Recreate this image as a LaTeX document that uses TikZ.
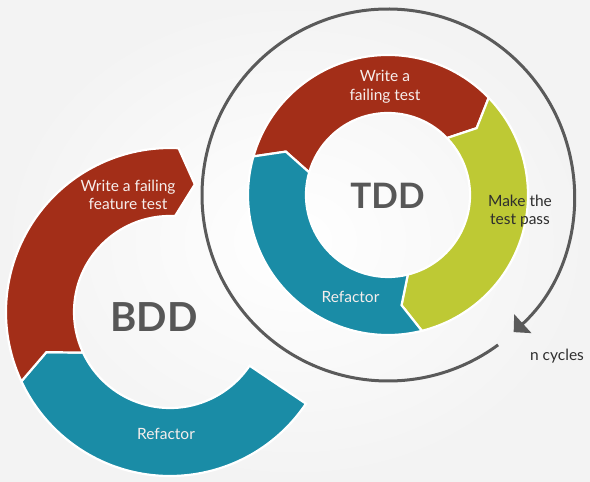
\documentclass[tikz,border=0pt]{standalone}
\usepackage{fontspec}
\setmainfont{Lato}
\usetikzlibrary{arrows.meta}

\definecolor{segred}{HTML}{A32E18}
\definecolor{segteal}{HTML}{1A8CA6}
\definecolor{seglime}{HTML}{BEC934}
\definecolor{cyclegray}{HTML}{5A5A5A}
\definecolor{titlegray}{HTML}{575757}
\definecolor{darktext}{HTML}{2E2E2E}
\definecolor{paper}{HTML}{F3F3F3}
\definecolor{labelwhite}{HTML}{F6EEEC}

% ring segment: colour, start angle, end angle, inner r, outer r,
% notch depth at the start (deg), head depth at the end (deg)
\newcommand\ringseg[7]{%
  \fill[#1, draw=white, line width=2.2]
    (#2:#5) arc[start angle=#2, end angle=#3, radius=#5]
    -- ({#3-#7}:{(#4+#5)/2})
    -- (#3:#4) arc[start angle=#3, end angle=#2, radius=#4]
    -- ({#2-#6}:{(#4+#5)/2}) -- cycle;}

\tikzset{
  seglabel/.style={text=labelwhite, font=\fontsize{15.5}{18.5}\selectfont, align=center, inner sep=0},
  darklabel/.style={text=darktext, font=\fontsize{15.5}{18.5}\selectfont, align=center, inner sep=0},
  title/.style={text=titlegray, font=\bfseries\fontsize{40}{40}\selectfont, inner sep=0},
  cyclearc/.style={draw=cyclegray, line width=3, -{Triangle[length=12.5pt, width=25pt]}}
}

\begin{document}
\begin{tikzpicture}[x=1pt, y=1pt]
  % paper background with a soft vignette
  \fill[inner color=white, outer color=paper] (0,0) rectangle (590,482);
  \useasboundingbox (0,0) rectangle (590,482);

  % BDD outer loop
  \begin{scope}[shift={(170,170)}]
    \ringseg{segteal}{-34}{-155}{96}{164}{0}{7}
    \ringseg{segred}{205}{87}{96}{164}{7}{8}
  \end{scope}

  % TDD inner loop
  \begin{scope}[shift={(388,287)}]
    \ringseg{segred}{164}{44}{82}{140}{7}{7}
    \ringseg{seglime}{44}{-76}{82}{140}{7}{7}
    \ringseg{segteal}{284}{164}{82}{140}{7}{7}
    % repetition arrow around the TDD loop
    \coordinate (cycstart) at (306.3:186);
    \draw[cyclearc] (cycstart) arc[start angle=306.3, end angle=-47.5, radius=186];
  \end{scope}

  % labels
  \node[seglabel] (bwrite) at (128,287) {Write a failing\\feature test};
  \node[title] (bdd) at (154,164.5) {BDD};
  \node[seglabel] (brefactor) at (166,48) {Refactor};

  \node[seglabel] (twrite) at (385,395) {Write a\\failing test};
  \node[title, font=\bfseries\fontsize{35}{35}\selectfont] (tdd) at (387.5,286.5) {TDD};
  \node[darklabel] (tmake) at (520,271) {Make the\\test pass};
  \node[seglabel] (trefactor) at (350.5,185) {Refactor};
  \node[darklabel] (ncycles) at (557,126) {n cycles};
\end{tikzpicture}
\end{document}
